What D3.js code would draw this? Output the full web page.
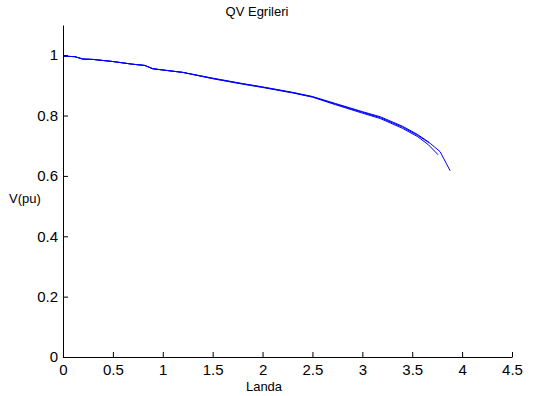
<!DOCTYPE html>
<html><head><meta charset="utf-8">
<script src="https://cdn.jsdelivr.net/npm/d3@7"></script>
<style>body{margin:0;background:#fff}svg{display:block}text{font-family:"Liberation Sans",Arial,sans-serif;fill:#000}</style>
</head><body><svg id="c" width="533" height="396"></svg>
<script>
const title = "QV Egrileri";
const xLabel = "Landa";
const yLabel = "V(pu)";
const xTicks = [0,0.5,1,1.5,2,2.5,3,3.5,4,4.5];
const yTicks = [0,0.2,0.4,0.6,0.8,1];
const lambdaA = [0,0.12,0.2,0.3,0.5,0.7,0.82,0.9,1.0,1.2,1.5,1.8,2.0,2.3,2.5,2.73,3.0,3.18,3.4,3.55,3.68,3.78,3.88];
const voltA   = [0.997,0.995,0.987,0.986,0.979,0.970,0.966,0.955,0.951,0.943,0.923,0.905,0.894,0.876,0.862,0.838,0.811,0.793,0.762,0.735,0.708,0.680,0.617];
const lambdaB = [0,0.12,0.2,0.3,0.5,0.7,0.82,0.9,1.0,1.2,1.5,1.8,2.0,2.3,2.5,2.73,3.0,3.18,3.4,3.55,3.66,3.76];
const voltB   = [0.997,0.995,0.987,0.986,0.979,0.970,0.966,0.955,0.951,0.943,0.922,0.904,0.893,0.875,0.861,0.836,0.808,0.790,0.758,0.731,0.704,0.670];
const lambdaC = [0,0.12,0.2,0.3,0.5,0.7,0.82,0.9,1.0,1.2,1.5,1.8,2.0,2.3,2.5,2.73,3.0,3.18,3.4,3.55,3.67];
const voltC   = [0.997,0.995,0.987,0.986,0.979,0.970,0.966,0.955,0.951,0.943,0.924,0.906,0.895,0.877,0.863,0.840,0.813,0.796,0.765,0.738,0.711];
const series = [[lambdaA,voltA],[lambdaB,voltB],[lambdaC,voltC]];

const svg = d3.select("#c");
const x = d3.scaleLinear().domain([0,4.5]).range([63,512]);
const y = d3.scaleLinear().domain([0,1.1]).range([357,25]);

const line = d3.line().x(d=>x(d[0])).y(d=>y(d[1]));
series.forEach(([lx,vy])=>{
  svg.append("path").datum(lx.map((v,i)=>[v,vy[i]]))
    .attr("d",line).attr("fill","none").attr("stroke","#0000ff").attr("stroke-width",1);
});

const xa = svg.append("g").attr("transform","translate(0,357)")
  .call(d3.axisBottom(x).tickValues(xTicks).tickFormat(d3.format("")).tickSizeInner(-5).tickSizeOuter(0).tickPadding(7));
const ya = svg.append("g").attr("transform","translate(63,0)")
  .call(d3.axisLeft(y).tickValues(yTicks).tickFormat(d3.format("")).tickSizeInner(-5).tickSizeOuter(0).tickPadding(7));
[xa,ya].forEach(a=>{
  a.select(".domain").attr("stroke","#000");
  a.selectAll(".tick line").attr("stroke","#000");
  a.selectAll("text").attr("font-size",15).attr("font-family","Liberation Sans, Arial, sans-serif");
});
xa.selectAll(".tick text").attr("dy",null).attr("y",18);
ya.selectAll(".tick text").attr("x",-5);

svg.append("text").attr("x",257).attr("y",16).attr("text-anchor","middle").attr("font-size",13).text(title);
svg.append("text").attr("x",264).attr("y",391).attr("text-anchor","middle").attr("font-size",13).text(xLabel);
svg.append("text").attr("x",9).attr("y",203).attr("font-size",13).text(yLabel);
</script></body></html>
